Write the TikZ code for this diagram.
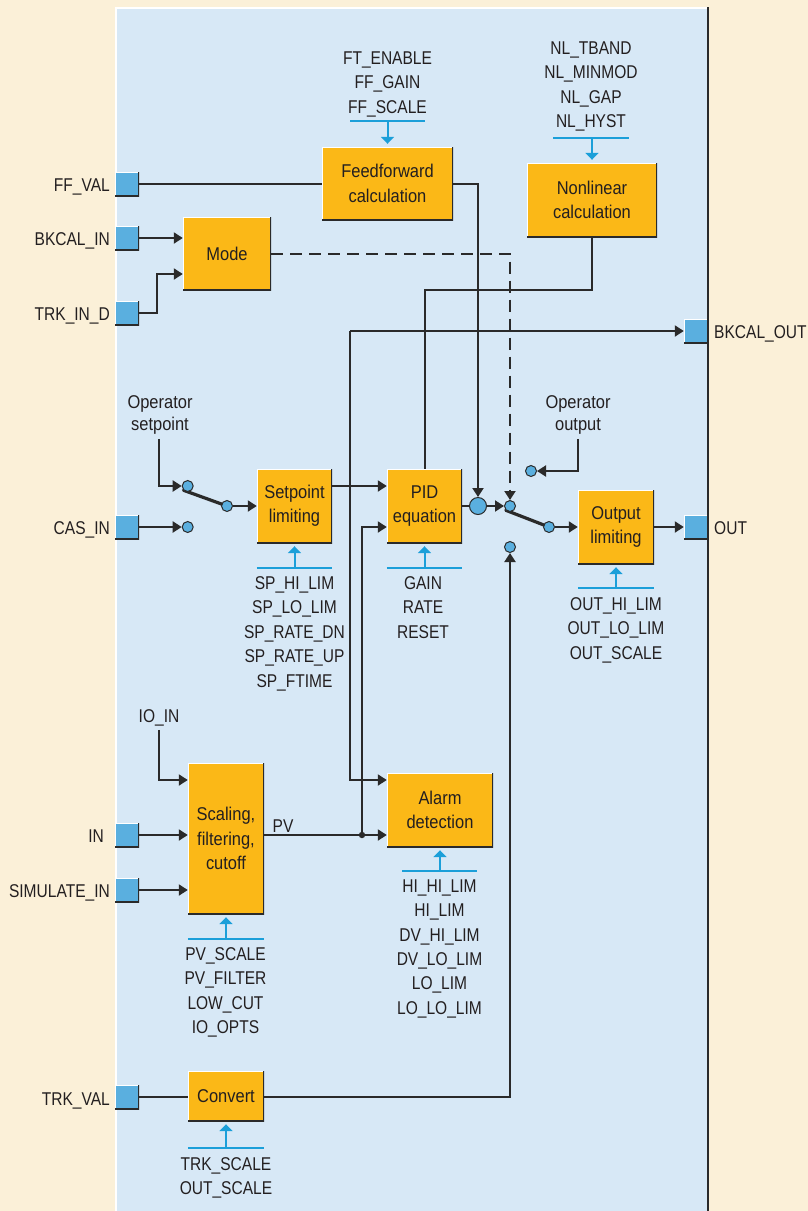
\documentclass[tikz,border=0pt]{standalone}
\usepackage{fontspec}
\setmainfont{Liberation Sans}[FakeStretch=0.84]
\newfontfamily\boxfont{Liberation Sans}[FakeStretch=0.89]
\usetikzlibrary{arrows.meta,calc}
\definecolor{cream}{HTML}{FBF0D8}
\definecolor{panel}{HTML}{D7E8F6}
\definecolor{orng}{HTML}{FBB817}
\definecolor{pblue}{HTML}{5AAFDF}
\definecolor{cyanl}{HTML}{1B9FD9}
\definecolor{dark}{HTML}{2A2A2A}
\definecolor{txt}{HTML}{231F20}
\pgfdeclarelayer{bg}
\pgfsetlayers{bg,main}
\tikzset{
  bevel/.style={path picture={
    \draw[white,line width=2pt] (path picture bounding box.south west) -- (path picture bounding box.north west) -- (path picture bounding box.north east);
    \draw[dark,line width=2.6pt] (path picture bounding box.north east) -- (path picture bounding box.south east) -- (path picture bounding box.south west);}},
  box/.style={fill=orng, inner sep=0pt, align=center, bevel, font=\fontsize{18.5}{24.4}\boxfont},
  port/.style={fill=pblue, minimum size=24pt, inner sep=0pt, bevel},
  contact/.style={circle, fill=pblue, draw=dark, line width=1pt, minimum size=11pt, inner sep=0pt},
  summer/.style={circle, fill=pblue, draw=dark, line width=1pt, minimum size=17pt, inner sep=0pt},
  ln/.style={draw=dark, line width=2pt},
  arr/.style={ln, -{Triangle[length=9pt,width=11pt]}},
  dashln/.style={arr, dash pattern=on 12pt off 7pt},
  blade/.style={draw=dark, line width=3.2pt, line cap=round},
  cy/.style={draw=cyanl, line width=2pt},
  cyarr/.style={draw=cyanl, line width=2pt, -{Triangle[length=7pt,width=13pt]}, shorten >=3pt},
  plist/.style={align=center, inner sep=0pt, anchor=north},
  oplbl/.style={plist, font=\fontsize{18.5}{22.5}\boxfont},
  lbl/.style={inner sep=0pt},
}
\begin{document}
\begin{tikzpicture}[x=1pt,y=-1pt, font=\fontsize{18.5}{24.4}\selectfont, text=txt]
\useasboundingbox (0,0) rectangle (808,1211);
\begin{pgfonlayer}{bg}
\fill[cream] (0,0) rectangle (808,1211);
\fill[panel] (115,7) rectangle (708,1211);
\draw[white,line width=1.5pt] (115.75,1211) -- (115.75,7.75) -- (707,7.75);
\draw[dark,line width=2pt] (708,7) -- (708,1211);
\end{pgfonlayer}

% blocks
\node[box, minimum width=131pt, minimum height=73pt] (ff) at (387.5,183.5) {Feedforward\\calculation};
\node[box, minimum width=88pt, minimum height=73pt] (mode) at (227,253.5) {Mode};
\node[box, minimum width=130pt, minimum height=74pt] (nl) at (592,200) {Nonlinear\\calculation};
\node[box, minimum width=75pt, minimum height=74pt] (spl) at (294.5,506) {Setpoint\\limiting};
\node[box, minimum width=75pt, minimum height=74pt] (pid) at (424.5,506) {PID\\equation};
\node[box, minimum width=76pt, minimum height=74pt] (outl) at (616,527) {Output\\limiting};
\node[box, minimum width=76pt, minimum height=151pt] (scal) at (226,838.5) {Scaling,\\filtering,\\cutoff};
\node[box, minimum width=106pt, minimum height=74pt] (alarm) at (440,810) {Alarm\\detection};
\node[box, minimum width=76pt, minimum height=50pt] (conv) at (226,1096) {Convert};

% ports
\node[port] (pff) at (127,184) {};
\node[port] (pbk) at (127,238) {};
\node[port] (ptrk) at (127,313) {};
\node[port] (pcas) at (127,527) {};
\node[port] (pin) at (127,835) {};
\node[port] (psim) at (127,890) {};
\node[port] (ptv) at (127,1097) {};
\node[port] (pbo) at (696,331) {};
\node[port] (pout) at (696,527) {};

% port labels
\node[lbl, anchor=base east] (lff) at (110,191) {FF\_VAL};
\node[lbl, anchor=base east] (lbk) at (110,245) {BKCAL\_IN};
\node[lbl, anchor=base east] (ltrk) at (110,320) {TRK\_IN\_D};
\node[lbl, anchor=base east] (lcas) at (110,534) {CAS\_IN};
\node[lbl, anchor=base east] (lin) at (104,842) {IN};
\node[lbl, anchor=base east] (lsim) at (110,897) {SIMULATE\_IN};
\node[lbl, anchor=base east] (ltv) at (110,1105) {TRK\_VAL};
\node[lbl, anchor=base west] (lbo) at (714,338) {BKCAL\_OUT};
\node[lbl, anchor=base west] (lout) at (714,534) {OUT};

% switch contacts
\node[contact] (c1) at (187.7,486) {};
\node[contact] (c2) at (187.7,527) {};
\node[contact] (c3) at (227,506) {};
\node[summer] (sum) at (478,506) {};
\node[contact] (d1) at (510,506) {};
\node[contact] (d2) at (531,471) {};
\node[contact] (d3) at (510,547) {};
\node[contact] (d4) at (549,527) {};

\begin{pgfonlayer}{bg}
\draw[blade] (c1.south west) -- (c3.center);
\draw[blade] (d1.south west) -- (d4.center);
\end{pgfonlayer}

% free labels
\node[oplbl] (opsp) at (160,395.3) {Operator\\setpoint};
\node[oplbl] (opout) at (578,395.3) {Operator\\output};
\node[lbl, anchor=base] (ioin) at (159,722) {IO\_IN};
\node[lbl, anchor=base] (pvl) at (283,832) {PV};

% parameter lists
\node[plist] (ffp) at (387.5,51.3) {FT\_ENABLE\\FF\_GAIN\\FF\_SCALE};
\node[plist] (nlp) at (591,41.3) {NL\_TBAND\\NL\_MINMOD\\NL\_GAP\\NL\_HYST};
\node[plist] (spp) at (294.5,576.3) {SP\_HI\_LIM\\SP\_LO\_LIM\\SP\_RATE\_DN\\SP\_RATE\_UP\\SP\_FTIME};
\node[plist] (pidp) at (423,576.3) {GAIN\\RATE\\RESET};
\node[plist] (outp) at (616,597.3) {OUT\_HI\_LIM\\OUT\_LO\_LIM\\OUT\_SCALE};
\node[plist] (scp) at (225.5,947.3) {PV\_SCALE\\PV\_FILTER\\LOW\_CUT\\IO\_OPTS};
\node[plist] (alp) at (439.5,879.3) {HI\_HI\_LIM\\HI\_LIM\\DV\_HI\_LIM\\DV\_LO\_LIM\\LO\_LIM\\LO\_LO\_LIM};
\node[plist] (cvp) at (226,1157.3) {TRK\_SCALE\\OUT\_SCALE};

% parameter bars and arrows
\draw[cy] (350,121) -- (425,121);
\draw[cyarr] (ff.north |- 0,121) -- (ff.north);
\draw[cy] (553,138) -- (629,138);
\draw[cyarr] (nl.north |- 0,138) -- (nl.north);
\draw[cy] (spl.west |- 0,568) -- (spl.east |- 0,568);
\draw[cyarr] (spl.south |- 0,568) -- (spl.south);
\draw[cy] (pid.west |- 0,568) -- (pid.east |- 0,568);
\draw[cyarr] (pid.south |- 0,568) -- (pid.south);
\draw[cy] (outl.west |- 0,588) -- (outl.east |- 0,588);
\draw[cyarr] (outl.south |- 0,588) -- (outl.south);
\draw[cy] (scal.west |- 0,939) -- (scal.east |- 0,939);
\draw[cyarr] (scal.south |- 0,939) -- (scal.south);
\draw[cy] (402,871) -- (477,871);
\draw[cyarr] (alarm.south |- 0,871) -- (alarm.south);
\draw[cy] (conv.west |- 0,1148) -- (conv.east |- 0,1148);
\draw[cyarr] (conv.south |- 0,1148) -- (conv.south);

% connectors
\draw[ln] (pff.east) -- (ff.west |- pff);
\draw[arr] (pbk.east) -- (mode.west |- pbk);
\draw[arr] (ptrk.east) -- (157,313) |- (mode.west |- 0,274);
\draw[dashln] (mode.east) -| (d1.north);
\draw[arr] (ff.east |- pff) -| (sum.north);
\draw[ln] (nl.south) -- (nl.south |- 0,290) -| (pid.north);
\draw[arr] (spl.east |- c1) -- (pid.west |- c1);
\coordinate (bk) at (350,331);
\draw[arr] (bk) -- (pbo.west);
\draw[arr] (bk) |- (alarm.west |- 0,780);
\draw[arr] (scal.east |- pin) -- (alarm.west |- pin);
\coordinate (pvj) at (362,835);
\fill[dark] (pvj) circle (3.2pt);
\draw[arr] (pvj) |- (pid.west |- c2);
\draw[arr] (pin.east) -- (scal.west |- pin);
\draw[arr] (psim.east) -- (scal.west |- psim);
\draw[arr] (ioin.south) ++(0,4) |- (scal.west |- 0,780);
\draw[arr] (opsp.south) ++(-1,4) |- (c1.west);
\draw[arr] (pcas.east) -- (c2.west);
\draw[arr] (c3.east) -- (spl.west |- c3);
\draw[ln] (pid.east |- sum) -- (sum.west);
\draw[arr] (sum.east) -- (d1.west);
\draw[arr] (d4.east) -- (outl.west |- d4);
\draw[arr] (outl.east) -- (pout.west);
\draw[arr] (opout.south) ++(0,4) |- (d2.east);
\draw[ln] (ptv.east) -- (conv.west |- ptv);
\draw[arr] (conv.east |- ptv) -| (d3.south);
\end{tikzpicture}
\end{document}
